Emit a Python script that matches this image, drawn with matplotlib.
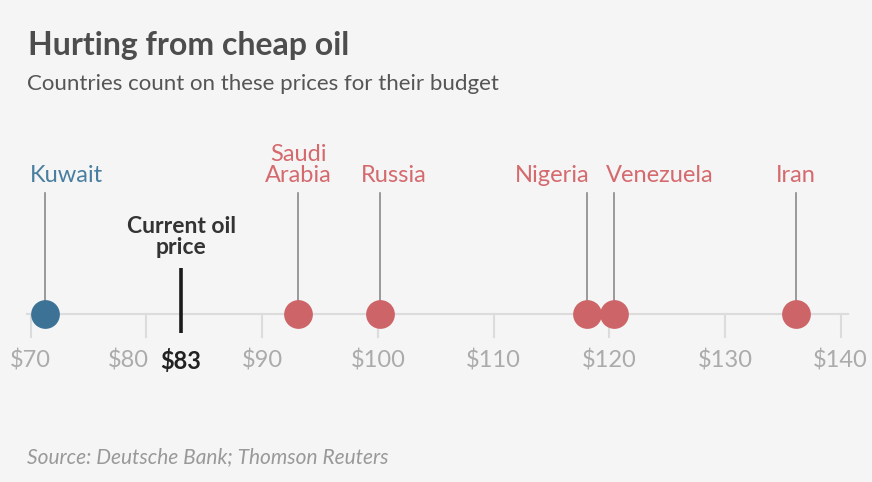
import matplotlib
matplotlib.use("Agg")
import matplotlib.pyplot as plt

plt.rcParams["font.family"] = ["Lato", "DejaVu Sans"]

# budget break-even oil prices, $ per barrel
countries = ["Kuwait", "Saudi\nArabia", "Russia", "Nigeria", "Venezuela", "Iran"]
prices = [71.2, 93.1, 100.2, 118.1, 120.4, 136.1]
below_current = [True, False, False, False, False, False]
current_price = 83
tick_values = [70, 80, 90, 100, 110, 120, 130, 140]
tick_labels = ["$%d" % v for v in tick_values]

# label placement relative to the stem: (offset px, alignment)
label_place = [(-15, "left"), (0, "center"), (14, "center"), (2, "right"), (-8, "left"), (0, "center")]
# $80 label is nudged left to make room for the current price
tick_label_dx = {80: -18}

BG = "#f5f5f5"
BLUE_DOT, BLUE_TXT = "#3b7295", "#4a7ea0"
RED_DOT, RED_TXT = "#cc6468", "#d56a6e"

W, H = 872, 482
fig = plt.figure(figsize=(W / 100, H / 100), dpi=100, facecolor=BG)
ax = fig.add_axes([0, 0, 1, 1])
ax.set_facecolor(BG)
ax.axis("off")

# map $70 -> x=30.7px, $140 -> x=840.7px ; y in pixels from the top
scale = (840.7 - 30.7) / 70
ax.set_xlim(70 - 30.7 / scale, 70 + (W - 30.7) / scale)
ax.set_ylim(H, 0)

axis_y = 314
ax.plot([70 - 3.7 / scale, 140 + 7.3 / scale], [axis_y, axis_y], color="#dcdcdc", lw=1.5, zorder=1)
for v, lab in zip(tick_values, tick_labels):
    ax.plot([v, v], [axis_y, 337], color="#dcdcdc", lw=1.5, zorder=1)
    ax.text(v + tick_label_dx.get(v, 0) / scale, 361, lab, ha="center", va="center",
            fontsize=17, color="#ababab")

for name, p, low, (dx, ha) in zip(countries, prices, below_current, label_place):
    dot = BLUE_DOT if low else RED_DOT
    txt = BLUE_TXT if low else RED_TXT
    ax.plot([p, p], [193, axis_y], color="#8a8a8a", lw=1.2, zorder=2)
    ax.plot(p, axis_y, "o", ms=20.7, color=dot, mec="none", zorder=3)
    ax.text(p + dx / scale, 186, name, ha=ha, va="bottom", fontsize=17,
            color=txt, linespacing=1.02)

# current price marker
ax.plot([current_price, current_price], [268, 333], color="#1a1a1a", lw=2.6,
        solid_capstyle="butt", zorder=3)
ax.text(current_price, 237, "Current oil\nprice", ha="center", va="center",
        fontsize=16.5, fontweight="bold", color="#333333", linespacing=0.98)
ax.text(current_price, 361, "$%d" % current_price, ha="center", va="center",
        fontsize=17, fontweight="bold", color="#222222", zorder=4)

fig.text(28 / W, 1 - 55 / H, "Hurting from cheap oil", fontsize=23,
         fontweight="bold", color="#4d4d4d", va="baseline")
fig.text(27 / W, 1 - 90 / H, "Countries count on these prices for their budget",
         fontsize=16, color="#555555", va="baseline")
fig.text(27 / W, 1 - 457 / H, "Source: Deutsche Bank; Thomson Reuters",
         fontsize=15, style="italic", color="#999999", va="center")

fig.savefig("out.png", dpi=100, facecolor=BG)
